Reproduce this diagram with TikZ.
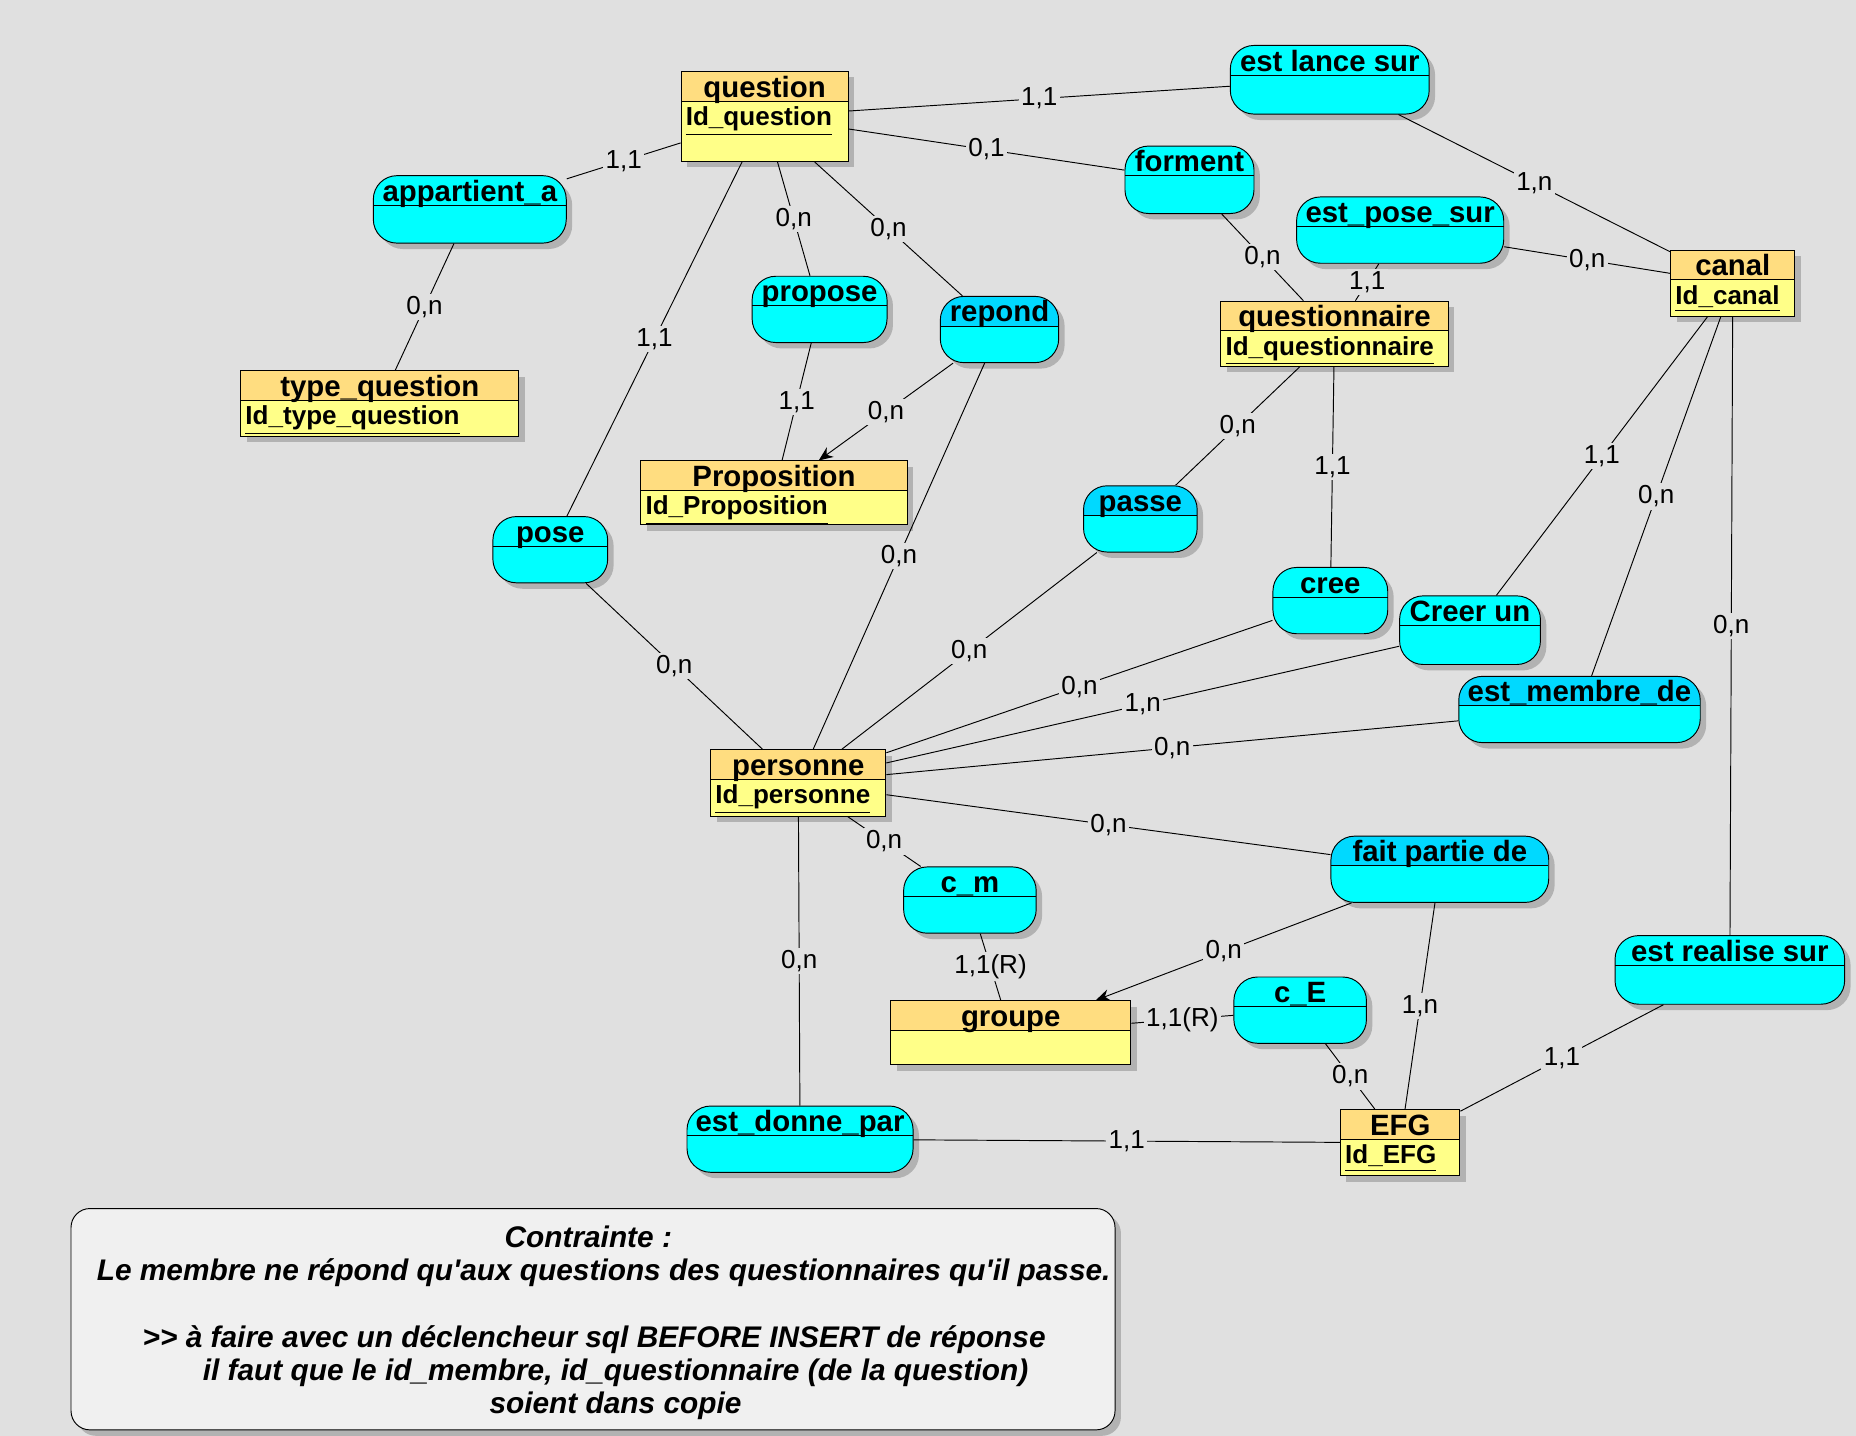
\documentclass[tikz,border=0pt]{standalone}
\usepackage{fontspec}
\newfontfamily\lib{Liberation Sans}
\usetikzlibrary{arrows.meta,shadows}

\definecolor{fond}{RGB}{224,224,224}
\definecolor{enttete}{RGB}{255,221,128}
\definecolor{entcorps}{RGB}{255,255,136}
\definecolor{assoccorps}{RGB}{0,255,255}
\definecolor{assoctete}{RGB}{0,217,255}
\definecolor{ombre}{RGB}{178,178,178}
\definecolor{notefond}{RGB}{240,240,240}

\tikzset{
  ombrage/.style={drop shadow={shadow xshift=2.5pt, shadow yshift=-2.5pt, fill=ombre, opacity=1}},
  entite/.style={draw, fill=entcorps, anchor=north west, inner sep=0pt, ombrage,
    path picture={
      \fill[enttete, sharp corners] (path picture bounding box.north west) rectangle ([yshift=-12.5pt]path picture bounding box.north east);
      \draw ([yshift=-12.5pt]path picture bounding box.north west) -- ([yshift=-12.5pt]path picture bounding box.north east);
    }},
  assoc/.style={draw, fill=assoccorps, rounded corners=10pt, anchor=north west, inner sep=0pt, ombrage,
    path picture={
      \fill[#1, sharp corners] (path picture bounding box.north west) rectangle ([yshift=-12.5pt]path picture bounding box.north east);
      \draw[sharp corners] ([yshift=-12.5pt]path picture bounding box.north west) -- ([yshift=-12.5pt]path picture bounding box.north east);
    }},
  assoc/.default=assoccorps,
  titre/.style={anchor=base, inner sep=0pt, font=\lib\bfseries\fontsize{12.4}{14}\selectfont},
  ident/.style={anchor=base west, inner sep=0pt, font=\lib\bfseries\fontsize{11}{13}\selectfont},
  card/.style={fill=fond, inner sep=1pt, font=\lib\fontsize{11}{12}\selectfont},
  fleche/.style={-{Stealth[length=6pt,width=5pt]}},
}

\begin{document}
\begin{tikzpicture}[x=0.5pt,y=-0.5pt]
  \useasboundingbox (0,0) rectangle (1568,1213);
  \fill[fond] (0,0) rectangle (1568,1213);

  % entites
  \node[entite, minimum width=70.5pt, minimum height=38pt] (question) at (575,60) {};
  \node[titre] (question-t) at ([yshift=-11pt]question.north) {question};
  \node[ident] (question-id) at ([xshift=2pt,yshift=-23pt]question.north west) {\underline{Id\_question}};

  \node[entite, minimum width=117.5pt, minimum height=27.5pt] (typequestion) at (203,313) {};
  \node[titre] (typequestion-t) at ([yshift=-11pt]typequestion.north) {type\_question};
  \node[ident] (typequestion-id) at ([xshift=2pt,yshift=-23pt]typequestion.north west) {\underline{Id\_type\_question}};

  \node[entite, minimum width=112.5pt, minimum height=27pt] (proposition) at (541,389) {};
  \node[titre] (proposition-t) at ([yshift=-11pt]proposition.north) {Proposition};
  \node[ident] (proposition-id) at ([xshift=2pt,yshift=-23pt]proposition.north west) {\underline{Id\_Proposition}};

  \node[entite, minimum width=96pt, minimum height=27.5pt] (questionnaire) at (1031,254) {};
  \node[titre] (questionnaire-t) at ([yshift=-11pt]questionnaire.north) {questionnaire};
  \node[ident] (questionnaire-id) at ([xshift=2pt,yshift=-23pt]questionnaire.north west) {\underline{Id\_questionnaire}};

  \node[entite, minimum width=52.5pt, minimum height=28pt] (canal) at (1411,211) {};
  \node[titre] (canal-t) at ([yshift=-11pt]canal.north) {canal};
  \node[ident] (canal-id) at ([xshift=2pt,yshift=-23pt]canal.north west) {\underline{Id\_canal}};

  \node[entite, minimum width=74pt, minimum height=28pt] (personne) at (600,633) {};
  \node[titre] (personne-t) at ([yshift=-11pt]personne.north) {personne};
  \node[ident] (personne-id) at ([xshift=2pt,yshift=-23pt]personne.north west) {\underline{Id\_personne}};

  \node[entite, minimum width=101.5pt, minimum height=27pt] (groupe) at (752,845) {};
  \node[titre] (groupe-t) at ([yshift=-11pt]groupe.north) {groupe};

  \node[entite, minimum width=50.5pt, minimum height=28pt] (efg) at (1132,937) {};
  \node[titre] (efg-t) at ([yshift=-11pt]efg.north) {EFG};
  \node[ident] (efg-id) at ([xshift=2pt,yshift=-23pt]efg.north west) {\underline{Id\_EFG}};

  % associations
  \node[assoc, minimum width=84pt, minimum height=29pt] (lancesur) at (1039,38) {};
  \node[titre] (lancesur-t) at ([yshift=-11pt]lancesur.north) {est lance sur};
  \node[assoc, minimum width=81.5pt, minimum height=28.5pt] (appartient) at (315,148) {};
  \node[titre] (appartient-t) at ([yshift=-11pt]appartient.north) {appartient\_a};
  \node[assoc, minimum width=54.5pt, minimum height=28.5pt] (forment) at (950,123) {};
  \node[titre] (forment-t) at ([yshift=-11pt]forment.north) {forment};
  \node[assoc, minimum width=87.5pt, minimum height=28pt] (posesur) at (1095,166) {};
  \node[titre] (posesur-t) at ([yshift=-11pt]posesur.north) {est\_pose\_sur};
  \node[assoc, minimum width=57pt, minimum height=28pt] (propose) at (635,233) {};
  \node[titre] (propose-t) at ([yshift=-11pt]propose.north) {propose};
  \node[assoc=assoctete, minimum width=50pt, minimum height=28pt] (repond) at (794,250) {};
  \node[titre] (repond-t) at ([yshift=-11pt]repond.north) {repond};
  \node[assoc, minimum width=48.5pt, minimum height=28pt] (pose) at (416,436) {};
  \node[titre] (pose-t) at ([yshift=-11pt]pose.north) {pose};
  \node[assoc=assoctete, minimum width=48pt, minimum height=28pt] (passe) at (915,410) {};
  \node[titre] (passe-t) at ([yshift=-11pt]passe.north) {passe};
  \node[assoc, minimum width=48.5pt, minimum height=28pt] (cree) at (1075,479) {};
  \node[titre] (cree-t) at ([yshift=-11pt]cree.north) {cree};
  \node[assoc, minimum width=59.5pt, minimum height=29pt] (creerun) at (1182,503) {};
  \node[titre] (creerun-t) at ([yshift=-11pt]creerun.north) {Creer un};
  \node[assoc=assoctete, minimum width=102pt, minimum height=28pt] (membre) at (1232,571) {};
  \node[titre] (membre-t) at ([yshift=-11pt]membre.north) {est\_membre\_de};
  \node[assoc=assoctete, minimum width=92pt, minimum height=28pt] (faitpartie) at (1124,706) {};
  \node[titre] (faitpartie-t) at ([yshift=-11pt]faitpartie.north) {fait partie de};
  \node[assoc, minimum width=56pt, minimum height=28pt] (cm) at (763,732) {};
  \node[titre] (cm-t) at ([yshift=-11pt]cm.north) {c\_m};
  \node[assoc, minimum width=56pt, minimum height=28pt] (ce) at (1042,825) {};
  \node[titre] (ce-t) at ([yshift=-11pt]ce.north) {c\_E};
  \node[assoc, minimum width=97pt, minimum height=29pt] (realise) at (1364,790) {};
  \node[titre] (realise-t) at ([yshift=-11pt]realise.north) {est realise sur};
  \node[assoc, minimum width=95.5pt, minimum height=28pt] (donnepar) at (580,934) {};
  \node[titre] (donnepar-t) at ([yshift=-11pt]donnepar.north) {est\_donne\_par};

  % liens et cardinalites
  \draw (question) -- node[card] {1,1} (lancesur);
  \draw (lancesur) -- node[card] {1,n} (canal);
  \draw (question) -- node[card] {1,1} (appartient);
  \draw (appartient) -- node[card] {0,n} (typequestion);
  \draw (question) -- node[card] {0,1} (forment);
  \draw (forment) -- node[card] {0,n} (questionnaire);
  \draw (posesur) -- node[card] {1,1} (questionnaire);
  \draw (posesur) -- node[card] {0,n} (canal);
  \draw (question) -- node[card] {0,n} (propose);
  \draw (question) -- node[card] {0,n} (repond);
  \draw (propose) -- node[card] {1,1} (proposition);
  \draw[fleche] (repond) -- node[card] {0,n} (proposition);
  \draw (question) -- node[card] {1,1} (pose);
  \draw (repond) -- node[card] {0,n} (personne);
  \draw (pose) -- node[card] {0,n} (personne);
  \draw (questionnaire) -- node[card] {0,n} (passe);
  \draw (passe) -- node[card] {0,n} (personne);
  \draw (questionnaire) -- node[card] {1,1} (cree);
  \draw (cree) -- node[card] {0,n} (personne);
  \draw (creerun) -- node[card] {1,n} (personne);
  \draw (canal) -- node[card] {1,1} (creerun);
  \draw (canal) -- node[card] {0,n} (membre);
  \draw (canal) -- node[card] {0,n} (realise);
  \draw (membre) -- node[card] {0,n} (personne);
  \draw (personne) -- node[card] {0,n} (faitpartie);
  \draw (personne) -- node[card] {0,n} (cm);
  \draw (cm) -- node[card] {1,1(R)} (groupe);
  \draw[fleche] (faitpartie) -- node[card] {0,n} (groupe);
  \draw (groupe) -- node[card] {1,1(R)} (ce);
  \draw (ce) -- node[card] {0,n} (efg);
  \draw (faitpartie) -- node[card] {1,n} (efg);
  \draw (realise) -- node[card] {1,1} (efg);
  \draw (personne) -- node[card] {0,n} (donnepar);
  \draw (donnepar) -- node[card] {1,1} (efg);

  % contrainte
  \draw[fill=notefond, rounded corners=8pt, ombrage] (60,1021) rectangle (942,1208);
  \node[align=center, font=\lib\bfseries\itshape\fontsize{12.6}{14}\selectfont] (note) at (510,1117.5)
    {\hspace*{-13pt}Contrainte :\\
     Le membre ne répond qu'aux questions des questionnaires qu'il passe.\\[14pt]
     \hspace*{-8pt}>> à faire avec un déclencheur sql BEFORE INSERT de réponse\\
     \hspace*{10pt}il faut que le id\_membre, id\_questionnaire (de la question)\\
     \hspace*{10pt}soient dans copie};
\end{tikzpicture}
\end{document}
